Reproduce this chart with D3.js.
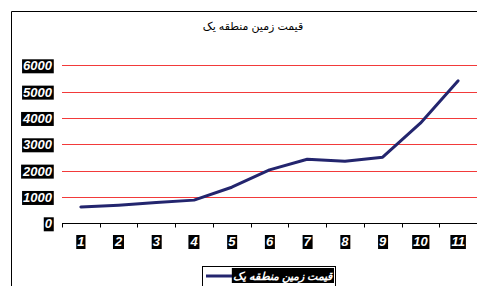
<!DOCTYPE html>
<html><head><meta charset="utf-8">
<script src="https://cdn.jsdelivr.net/npm/d3@7"></script>
<style>body{margin:0;background:#fff}svg{display:block}</style>
</head><body>
<svg id="c" width="477" height="286"></svg>
<script>
const categories = ["1","2","3","4","5","6","7","8","9","10","11"];
const values = [620, 690, 790, 880, 1370, 2030, 2430, 2360, 2510, 3800, 5410];
const yTicks = [0, 1000, 2000, 3000, 4000, 5000, 6000];
const title = "قیمت زمین منطقه یک";
const seriesName = "قیمت زمین منطقه یک";

const svg = d3.select("#c");
const W = 477, H = 286;
const m = {left: 62, right: 477, top: 65.3, bottom: 223.3};
const font = "'Liberation Sans', Arial, 'DejaVu Sans', sans-serif";

// frame
svg.append("path").attr("d", `M11.5,${H} V11.5 H${W}`).attr("fill","none").attr("stroke","#000").attr("stroke-width",1);

const x = d3.scaleBand().domain(categories).range([m.left, m.right]).padding(0);
const y = d3.scaleLinear().domain([0, 6000]).range([m.bottom, m.top]);

// title
svg.append("text").attr("x", 253).attr("y", 30).attr("text-anchor","middle")
  .attr("font-family", font).attr("font-size", 11).attr("fill","#000").text(title);

// gridlines
svg.append("g").selectAll("line").data(yTicks.filter(d=>d>0)).join("line")
  .attr("x1", m.left).attr("x2", m.right)
  .attr("y1", d=>Math.round(y(d))+0.5).attr("y2", d=>Math.round(y(d))+0.5)
  .attr("stroke","#f23a3a").attr("stroke-width",1);

// x axis
const xAxis = d3.axisBottom(x).tickSize(0).tickFormat("");
const gx = svg.append("g").attr("transform",`translate(0,${Math.round(m.bottom)+0.5})`).call(xAxis);
gx.select(".domain").attr("stroke","#000").attr("d", `M${m.left},0H${m.right}`);
const bounds = categories.map(c=>x(c)).concat([m.right]);
gx.selectAll(".bt").data(bounds).join("line").attr("class","bt")
  .attr("x1",d=>Math.round(d)+0.5).attr("x2",d=>Math.round(d)+0.5).attr("y1",0).attr("y2",4)
  .attr("stroke","#000");

function boxedLabel(g, tx, ty, txt, anchor, size){
  const grp = g.append("g");
  const rect = grp.append("rect").attr("fill","#000");
  const t = grp.append("text").attr("x",tx).attr("y",ty).attr("text-anchor",anchor)
    .attr("font-family",font).attr("font-size",size).attr("font-weight","bold").attr("font-style","italic")
    .attr("fill","#fff").text(txt);
  const b = t.node().getBBox();
  rect.attr("x", b.x-1).attr("y", b.y+1).attr("width", b.width+2).attr("height", b.height-1);
  return grp;
}

const xl = svg.append("g");
categories.forEach(c=>{
  boxedLabel(xl, x(c)+x.bandwidth()/2, 246, c, "middle", 13);
});

const yl = svg.append("g");
yTicks.forEach(v=>{
  boxedLabel(yl, 52, y(v)+5, String(v), "end", 13);
});

const line = d3.line().x((d,i)=>x(categories[i])+x.bandwidth()/2).y(d=>y(d));
svg.append("path").datum(values).attr("d", line).attr("fill","none")
  .attr("stroke","#23256e").attr("stroke-width",3).attr("stroke-linejoin","round").attr("stroke-linecap","round");

// legend
const lg = svg.append("g");
lg.append("rect").attr("x",202.5).attr("y",266.5).attr("width",133).attr("height",30)
  .attr("fill","#fff").attr("stroke","#000");
lg.append("line").attr("x1",206).attr("x2",234).attr("y1",276).attr("y2",276)
  .attr("stroke","#23256e").attr("stroke-width",3);
const lt = lg.append("text").attr("x",332).attr("y",280).attr("text-anchor","end")
  .attr("font-family",font).attr("font-size",11).attr("font-weight","bold").attr("font-style","italic")
  .attr("fill","#fff").text(seriesName);
const lb = lt.node().getBBox();
lg.insert("rect", "text").attr("x", lb.x-1).attr("y", 268).attr("width", lb.width+2).attr("height", 15).attr("fill","#000");
</script>
</body></html>
